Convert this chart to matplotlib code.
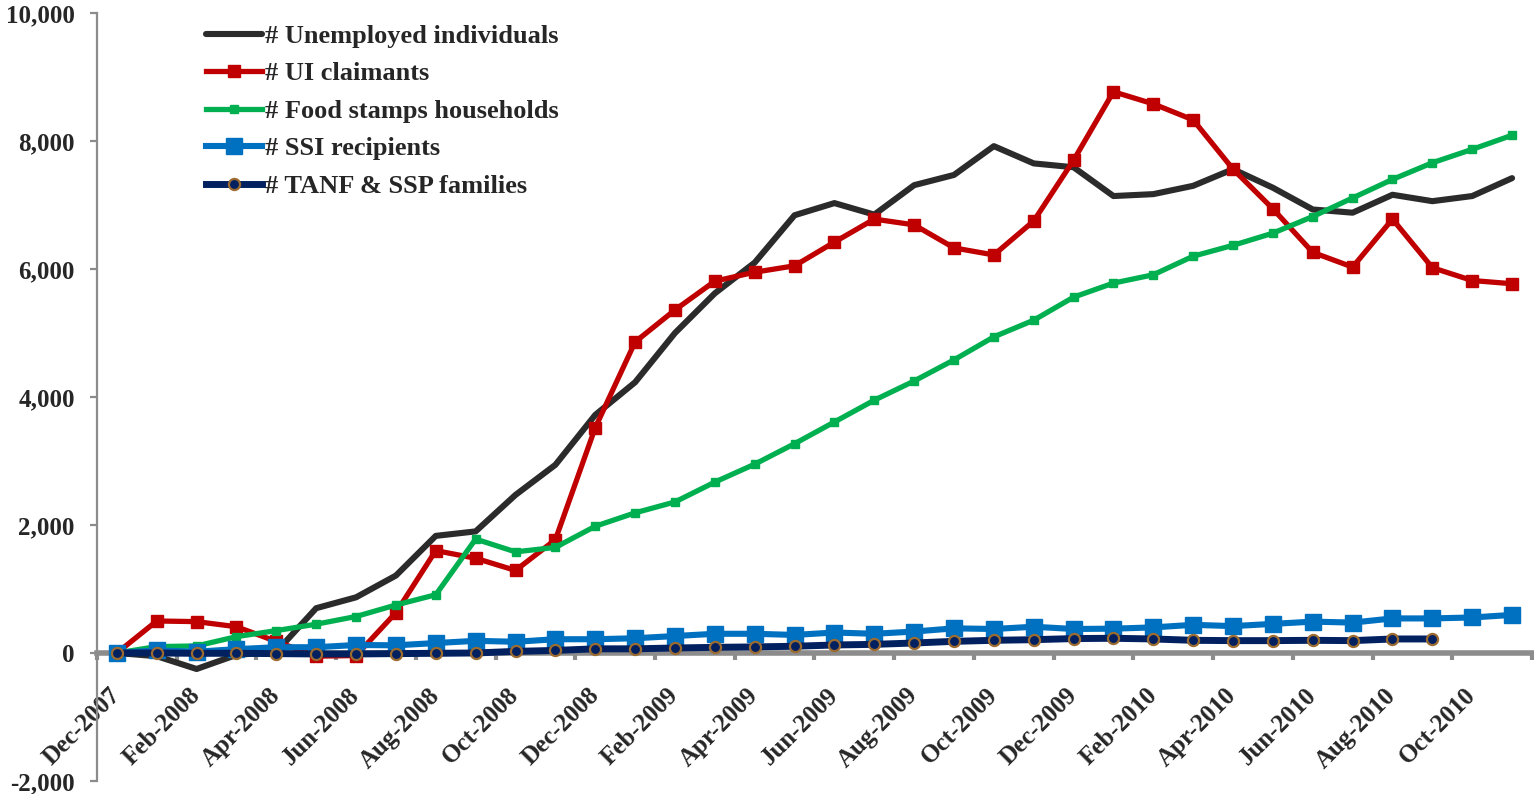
import matplotlib
matplotlib.use("Agg")
from matplotlib import pyplot as plt
from matplotlib.ticker import FuncFormatter, FixedLocator
import numpy as np

# monthly change since Dec-2007 (thousands)
months = [
    "Dec-2007", "Jan-2008", "Feb-2008", "Mar-2008", "Apr-2008", "May-2008",
    "Jun-2008", "Jul-2008", "Aug-2008", "Sep-2008", "Oct-2008", "Nov-2008",
    "Dec-2008", "Jan-2009", "Feb-2009", "Mar-2009", "Apr-2009", "May-2009",
    "Jun-2009", "Jul-2009", "Aug-2009", "Sep-2009", "Oct-2009", "Nov-2009",
    "Dec-2009", "Jan-2010", "Feb-2010", "Mar-2010", "Apr-2010", "May-2010",
    "Jun-2010", "Jul-2010", "Aug-2010", "Sep-2010", "Oct-2010", "Nov-2010",
]

unemployed = [
    0, -50, -250, -30, 20, 700, 870, 1210, 1830, 1900, 2470, 2940,
    3720, 4230, 5000, 5620, 6100, 6840, 7030, 6850, 7310, 7470, 7920, 7650,
    7590, 7140, 7170, 7300, 7560, 7270, 6930, 6880, 7160, 7060, 7140, 7420,
]
ui_claimants = [
    0, 500, 490, 410, 180, -50, -40, 630, 1600, 1480, 1290, 1770,
    3520, 4860, 5360, 5810, 5950, 6050, 6420, 6780, 6690, 6330, 6220, 6750,
    7700, 8770, 8580, 8330, 7560, 6940, 6260, 6030, 6780, 6020, 5820, 5770,
]
food_stamps = [
    0, 100, 110, 255, 350, 450, 570, 750, 910, 1780, 1580, 1650,
    1980, 2190, 2360, 2670, 2950, 3270, 3610, 3950, 4250, 4580, 4940, 5200,
    5560, 5780, 5910, 6200, 6370, 6560, 6820, 7110, 7400, 7660, 7870, 8090,
]
ssi = [
    0, 40, 20, 60, 90, 90, 125, 120, 155, 190, 175, 215,
    215, 230, 265, 300, 300, 282, 320, 300, 335, 385, 375, 410,
    375, 380, 400, 440, 420, 455, 490, 475, 540, 540, 555, 595,
]
tanf = [
    0, 0, -5, -5, -10, -15, -15, -10, -5, 0, 25, 40,
    65, 65, 78, 88, 95, 105, 125, 135, 156, 182, 198, 208,
    225, 230, 219, 198, 193, 193, 198, 193, 219, 219,
]

text_col = "#262626"
axis_col = "#8c8c8c"
font = "Liberation Serif"

fig = plt.figure(figsize=(15.34, 7.94), dpi=100)
ax = fig.add_axes([0.0632, 0.0164, 0.9355, 0.9672])

x = np.arange(len(months))

ax.plot(x, unemployed, color="#2b2b2b", lw=4.4, solid_capstyle="round",
        label="# Unemployed individuals", zorder=3)
ax.plot(x, ui_claimants, color="#C00000", lw=3.8, marker="s", ms=8.5,
        label="# UI claimants", zorder=4)
ax.plot(x, food_stamps, color="#00B050", lw=3.8, marker="s", ms=5.5,
        label="# Food stamps households", zorder=5)
ax.plot(x, ssi, color="#0070C0", lw=4.4, marker="s", ms=11,
        label="# SSI recipients", zorder=6)
ax.plot(np.arange(len(tanf)), tanf, color="#002060", lw=5, marker="o", ms=8,
        mfc="#002060", mec="#9C6B30", mew=1.6,
        label="# TANF & SSP families", zorder=7)

ax.set_xlim(-0.5, len(months) - 0.5)
ax.set_ylim(-2000, 10000)

for side in ["top", "right"]:
    ax.spines[side].set_visible(False)
ax.spines["left"].set_color(axis_col)
ax.spines["left"].set_linewidth(1.6)
ax.spines["bottom"].set_position(("data", 0))
ax.spines["bottom"].set_color(axis_col)
ax.spines["bottom"].set_linewidth(4)
ax.spines["bottom"].set_zorder(2)

ax.set_yticks(np.arange(-2000, 10001, 2000))
ax.yaxis.set_major_formatter(FuncFormatter(lambda v, p: f"{v:,.0f}"))
ax.tick_params(axis="y", direction="out", length=5, width=1.6, color=axis_col,
               pad=11, labelsize=18, labelcolor=text_col)

ax.set_xticks(x[::2])
ax.set_xticklabels(months[::2])
ax.xaxis.set_minor_locator(FixedLocator(np.arange(-0.5, len(months), 2)))
ax.tick_params(axis="x", which="major", length=0, pad=28, labelsize=18,
               labelcolor=text_col)
ax.tick_params(axis="x", which="minor", direction="out", length=5, width=3,
               color=axis_col)
for lab in ax.get_xticklabels():
    lab.set_rotation(45)
    lab.set_ha("right")
    lab.set_va("center")
    lab.set_rotation_mode("anchor")
    lab.set_fontweight("bold")
    lab.set_family(font)
for lab in ax.get_yticklabels():
    lab.set_fontweight("bold")
    lab.set_family(font)

leg = ax.legend(loc="upper left", bbox_to_anchor=(0.0597, 1.016), frameon=False,
                handlelength=2.1, handletextpad=0.12, labelspacing=0.53,
                prop={"family": font, "weight": "bold", "size": 19})
for t in leg.get_texts():
    t.set_color(text_col)

fig.savefig("out.png", dpi=100)
